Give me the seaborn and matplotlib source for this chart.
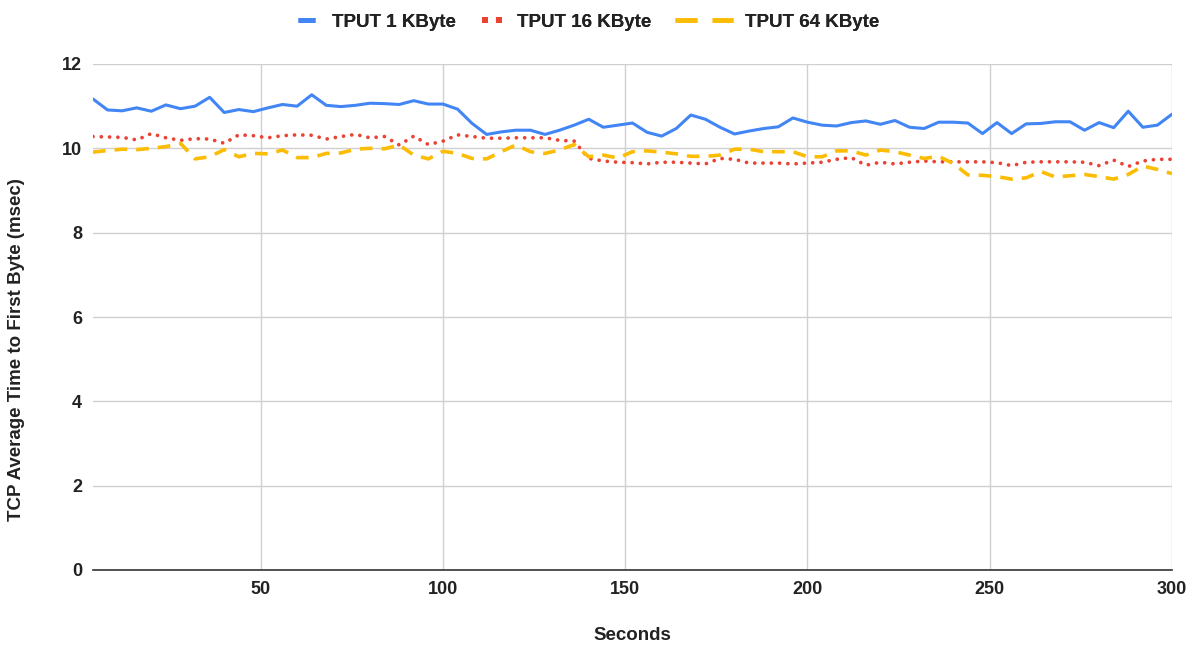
import numpy as np
import pandas as pd
import matplotlib
matplotlib.use("Agg")
import matplotlib.pyplot as plt
from matplotlib.lines import Line2D
import seaborn as sns

seconds = list(range(4, 301, 4))

tput_1k = [11.17, 10.91, 10.89, 10.96, 10.88, 11.03, 10.94, 11.00, 11.21, 10.85,
           10.92, 10.87, 10.96, 11.04, 11.00, 11.27, 11.02, 10.99, 11.02, 11.07,
           11.06, 11.04, 11.13, 11.05, 11.05, 10.93, 10.59, 10.33, 10.39, 10.43,
           10.43, 10.33, 10.43, 10.55, 10.69, 10.50, 10.55, 10.60, 10.38, 10.29,
           10.47, 10.79, 10.69, 10.50, 10.34, 10.41, 10.47, 10.51, 10.72, 10.62,
           10.55, 10.53, 10.61, 10.65, 10.57, 10.66, 10.50, 10.47, 10.62, 10.62,
           10.60, 10.35, 10.61, 10.35, 10.58, 10.59, 10.63, 10.63, 10.43, 10.61,
           10.49, 10.88, 10.50, 10.55, 10.81]

tput_16k = [10.28, 10.27, 10.26, 10.20, 10.35, 10.25, 10.19, 10.23, 10.22, 10.12,
            10.32, 10.30, 10.25, 10.30, 10.32, 10.31, 10.22, 10.28, 10.33, 10.25,
            10.28, 10.08, 10.29, 10.09, 10.17, 10.32, 10.28, 10.24, 10.24, 10.25,
            10.25, 10.25, 10.19, 10.17, 9.76, 9.70, 9.67, 9.66, 9.63, 9.67,
            9.67, 9.65, 9.63, 9.76, 9.74, 9.65, 9.65, 9.65, 9.63, 9.65,
            9.67, 9.74, 9.78, 9.60, 9.67, 9.63, 9.67, 9.70, 9.68, 9.68,
            9.68, 9.68, 9.66, 9.59, 9.67, 9.68, 9.68, 9.68, 9.67, 9.59,
            9.72, 9.57, 9.70, 9.74, 9.74]

tput_64k = [9.91, 9.95, 9.98, 9.97, 10.00, 10.04, 10.12, 9.75, 9.80, 9.97,
            9.80, 9.88, 9.87, 9.96, 9.78, 9.78, 9.88, 9.89, 9.98, 10.00,
            9.99, 10.08, 9.84, 9.75, 9.93, 9.88, 9.76, 9.75, 9.92, 10.08,
            9.92, 9.88, 9.96, 10.09, 9.80, 9.84, 9.77, 9.92, 9.94, 9.91,
            9.87, 9.81, 9.81, 9.84, 9.98, 9.98, 9.92, 9.92, 9.92, 9.80,
            9.80, 9.94, 9.94, 9.84, 9.96, 9.92, 9.84, 9.76, 9.81, 9.64,
            9.37, 9.36, 9.33, 9.27, 9.30, 9.45, 9.32, 9.35, 9.38, 9.33,
            9.27, 9.38, 9.58, 9.50, 9.40]

series_names = ["TPUT 1 KByte", "TPUT 16 KByte", "TPUT 64 KByte"]
x_ticks = [50, 100, 150, 200, 250, 300]
y_ticks = [0, 2, 4, 6, 8, 10, 12]

sns.set_theme(style="white")
plt.rcParams['font.family'] = ['Liberation Sans', 'DejaVu Sans']

df = pd.DataFrame({
    "Seconds": seconds * 3,
    "value": tput_1k + tput_16k + tput_64k,
    "series": [series_names[0]] * len(seconds) + [series_names[1]] * len(seconds) + [series_names[2]] * len(seconds),
})

colors = ["#4285F4", "#EA4335", "#FBBC04"]
styles = [dict(linestyle="-", linewidth=2.2),
          dict(linestyle=(0, (0.01, 2.2)), linewidth=2.7, dash_capstyle="round"),
          dict(linestyle=(0, (3.5, 2.5)), linewidth=2.6)]

fig = plt.figure(figsize=(11.96, 6.46), dpi=100)
ax = fig.add_axes([93 / 1196, 1 - 570 / 646, (1172 - 93) / 1196, (570 - 64) / 646])

for name, col, st in zip(series_names, colors, styles):
    sub = df[df["series"] == name]
    sns.lineplot(data=sub, x="Seconds", y="value", color=col, ax=ax, legend=False, **st)

ax.set_xlim(4, 300)
ax.set_ylim(0, 12)
ax.set_xticks(x_ticks)
ax.set_yticks(y_ticks)
ax.grid(True, color="#d0d0d0", linewidth=1.0)
ax.set_axisbelow(True)
for s in ["top", "right", "left"]:
    ax.spines[s].set_visible(False)
ax.spines["bottom"].set_color("#333333")
ax.spines["bottom"].set_linewidth(1.2)
ax.tick_params(axis="both", length=0, labelsize=13, labelcolor="#222222", pad=8)
for lab in ax.get_xticklabels() + ax.get_yticklabels():
    lab.set_fontweight("bold")
ax.set_xlabel("Seconds", fontsize=13.5, fontweight="bold", color="#222222")
ax.set_ylabel("TCP Average Time to First Byte (msec)", fontsize=13.5, fontweight="bold",
              color="#222222")
ax.xaxis.set_label_coords(0.5, -0.113)
ax.yaxis.set_label_coords(-0.063, 0.435)

# legend: three separate single-entry legends to mimic the differing handle sizes
proxies = [
    Line2D([], [], color=colors[0], linewidth=3.5, solid_capstyle="butt"),
    Line2D([], [], color=colors[1], linewidth=4.3, dashes=(1.0, 1.34), dash_capstyle="butt"),
    Line2D([], [], color=colors[2], linewidth=3.3, dashes=(4.8, 3.3), dash_capstyle="butt"),
]
leg_x = [298, 482, 675]
handle_len = [0.9, 1.06, 3.1]
text_pad = [0.9, 0.8, 0.63]
for i in range(3):
    leg = fig.legend([proxies[i]], [series_names[i]], loc="center left",
                     bbox_to_anchor=(leg_x[i] / 1196, 1 - 22 / 646), frameon=False,
                     prop={"size": 13.5, "weight": "bold"}, handlelength=handle_len[i],
                     handletextpad=text_pad[i], borderpad=0, borderaxespad=0)
    for t in leg.get_texts():
        t.set_color("#222222")
    fig.add_artist(leg)

fig.savefig("out.png", dpi=100)
